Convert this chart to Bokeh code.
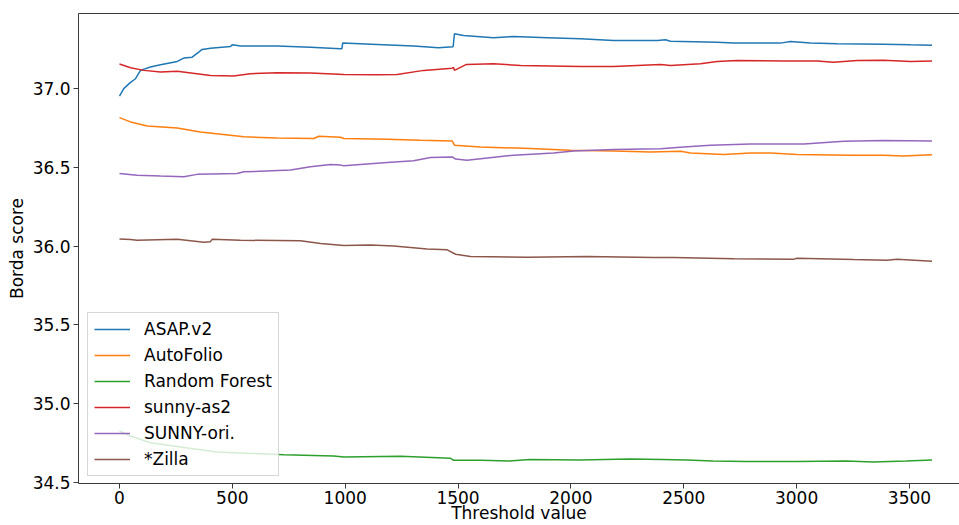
from bokeh.plotting import figure
from bokeh.models import (Legend, LegendItem, FixedTicker, NumeralTickFormatter,
                          LinearAxis, Range1d)
from bokeh.embed import file_html
from bokeh.resources import INLINE

# ---------------- data ----------------
names = ["ASAP.v2", "AutoFolio", "Random Forest", "sunny-as2", "SUNNY-ori.", "*Zilla"]
colors = ["#1f77b4", "#ff7f0e", "#2ca02c", "#d62728", "#9467bd", "#8c564b"]

asap_x = [0, 19, 45, 71, 93, 137, 182, 256, 285, 322, 351, 366, 403, 492, 500, 536, 699, 846,
          979, 985, 989, 1142, 1303, 1413, 1478, 1484, 1524, 1657, 1746, 1896, 2042, 2189, 2384,
          2419, 2441, 2648, 2721, 2928, 2973, 3061, 3179, 3385, 3505, 3600]
asap_y = [36.953, 37.0, 37.035, 37.063, 37.116, 37.137, 37.152, 37.173, 37.194, 37.200, 37.232,
          37.249, 37.257, 37.268, 37.278, 37.270, 37.270, 37.263, 37.253, 37.253, 37.289, 37.280,
          37.270, 37.260, 37.266, 37.348, 37.337, 37.323, 37.331, 37.323, 37.316, 37.306, 37.306,
          37.310, 37.301, 37.295, 37.289, 37.289, 37.300, 37.289, 37.285, 37.282, 37.278, 37.276]

autofolio_x = [0, 49, 123, 256, 359, 551, 699, 861, 883, 979, 994, 1186, 1334, 1474, 1484, 1599,
               1821, 1998, 2189, 2353, 2486, 2530, 2677, 2796, 2884, 3002, 3239, 3385, 3474, 3600]
autofolio_y = [36.816, 36.789, 36.763, 36.751, 36.725, 36.694, 36.687, 36.684, 36.698, 36.692,
               36.684, 36.679, 36.673, 36.668, 36.641, 36.630, 36.620, 36.609, 36.605, 36.598,
               36.603, 36.592, 36.582, 36.592, 36.592, 36.582, 36.578, 36.578, 36.572, 36.580]

rf_x = [0, 49, 137, 285, 433, 580, 728, 949, 994, 1245, 1467, 1481, 1599, 1728, 1817, 2038, 2260,
        2407, 2511, 2629, 2776, 2998, 3220, 3338, 3485, 3600]
rf_y = [34.827, 34.795, 34.753, 34.722, 34.694, 34.685, 34.677, 34.668, 34.662, 34.667, 34.654,
        34.641, 34.641, 34.637, 34.647, 34.643, 34.650, 34.647, 34.643, 34.637, 34.633, 34.633,
        34.637, 34.630, 34.637, 34.643]

sunny2_x = [0, 49, 108, 182, 256, 403, 505, 580, 699, 846, 994, 1142, 1230, 1348, 1474, 1480,
            1484, 1537, 1657, 1777, 2042, 2189, 2397, 2441, 2574, 2648, 2736, 2943, 3091, 3163,
            3268, 3385, 3505, 3600]
sunny2_y = [37.156, 37.133, 37.116, 37.105, 37.111, 37.084, 37.080, 37.095, 37.101, 37.099,
            37.090, 37.089, 37.090, 37.116, 37.130, 37.135, 37.116, 37.154, 37.158, 37.147,
            37.141, 37.141, 37.154, 37.147, 37.158, 37.173, 37.179, 37.175, 37.175, 37.168,
            37.179, 37.181, 37.173, 37.175]

sunnyori_x = [0, 78, 182, 285, 344, 521, 551, 758, 846, 935, 979, 994, 1186, 1303, 1378, 1474,
              1489, 1540, 1746, 1923, 2012, 2189, 2397, 2500, 2618, 2796, 3032, 3209, 3386, 3600]
sunnyori_y = [36.462, 36.451, 36.445, 36.441, 36.456, 36.462, 36.472, 36.483, 36.504, 36.519,
              36.515, 36.510, 36.532, 36.542, 36.563, 36.567, 36.553, 36.546, 36.578, 36.592,
              36.605, 36.614, 36.618, 36.630, 36.641, 36.649, 36.649, 36.666, 36.671, 36.668]

zilla_x = [0, 49, 78, 256, 374, 403, 411, 536, 802, 891, 994, 1112, 1215, 1363, 1452, 1489, 1555,
           1806, 2072, 2367, 2456, 2722, 2988, 3002, 3253, 3400, 3445, 3600]
zilla_y = [36.046, 36.042, 36.038, 36.044, 36.025, 36.029, 36.044, 36.038, 36.034, 36.017,
           36.004, 36.008, 36.002, 35.983, 35.977, 35.949, 35.934, 35.930, 35.934, 35.928,
           35.928, 35.920, 35.918, 35.924, 35.915, 35.911, 35.918, 35.905]

x_ticks = [0, 500, 1000, 1500, 2000, 2500, 3000, 3500]
y_ticks = [34.5, 35.0, 35.5, 36.0, 36.5, 37.0]

series = [(asap_x, asap_y), (autofolio_x, autofolio_y), (rf_x, rf_y),
          (sunny2_x, sunny2_y), (sunnyori_x, sunnyori_y), (zilla_x, zilla_y)]

# ---------------- figure ----------------
FONT = "DejaVu Sans"
FS = "17px"
SPINE = "#3a3a3a"

p = figure(width=959, height=525, output_backend="svg", toolbar_location=None,
           x_range=Range1d(-181.6, 3721.6), y_range=Range1d(34.494, 37.477),
           min_border_left=78, min_border_right=0, min_border_top=0, min_border_bottom=0)
p.background_fill_color = "white"
p.border_fill_color = "white"
p.outline_line_color = None
p.xgrid.visible = False
p.ygrid.visible = False

items = []
for (xs, ys), name, col in zip(series, names, colors):
    r = p.line(xs, ys, line_color=col, line_width=1.5)
    items.append(LegendItem(label=name, renderers=[r]))

for ax in (p.xaxis[0], p.yaxis[0]):
    ax.axis_line_color = SPINE
    ax.major_tick_line_color = SPINE
    ax.major_tick_out = 5
    ax.major_tick_in = 0
    ax.minor_tick_out = 0
    ax.minor_tick_in = 0
    ax.major_label_text_font = FONT
    ax.major_label_text_font_size = FS
    ax.major_label_text_color = "black"
    ax.axis_label_text_font = FONT
    ax.axis_label_text_font_size = FS
    ax.axis_label_text_font_style = "normal"
    ax.axis_label_text_color = "black"

p.xaxis[0].ticker = FixedTicker(ticks=x_ticks)
p.yaxis[0].ticker = FixedTicker(ticks=y_ticks)
p.yaxis[0].formatter = NumeralTickFormatter(format="0.0")
p.xaxis[0].axis_label = "Threshold value"
p.yaxis[0].axis_label = "Borda score"
p.xaxis[0].major_label_standoff = 2
p.xaxis[0].axis_label_standoff = -4
p.yaxis[0].major_label_standoff = 3
p.yaxis[0].axis_label_standoff = 3

# top spine (no right spine: cut off in reference)
top = LinearAxis(ticker=FixedTicker(ticks=[]), major_label_text_font_size="0px",
                 major_tick_out=0, major_tick_in=0, minor_tick_out=0, minor_tick_in=0,
                 axis_line_color=SPINE)
p.add_layout(top, "above")
p.min_border_top = 13

legend = Legend(items=items, location=(9, 7))
legend.label_text_font = FONT
legend.label_text_font_size = FS
legend.label_text_color = "black"
legend.glyph_width = 36
legend.glyph_height = 20
legend.label_height = 20
legend.spacing = 6
legend.padding = 6
legend.margin = 0
legend.label_standoff = 14
legend.border_line_color = "#cccccc"
legend.border_line_alpha = 0.8
legend.background_fill_color = "white"
legend.background_fill_alpha = 0.8
p.add_layout(legend)

open("out.html", "w").write(file_html(p, INLINE))
